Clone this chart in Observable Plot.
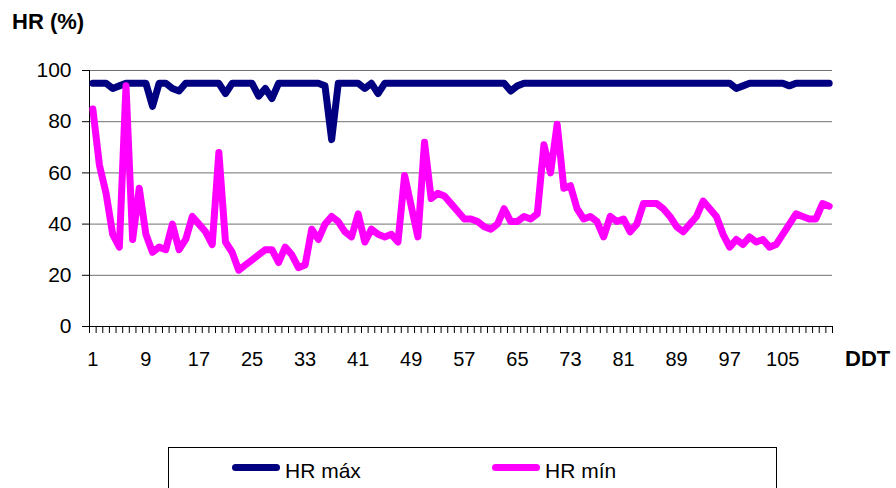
<!DOCTYPE html>
<html>
<head>
<meta charset="utf-8">
<script src="https://cdn.jsdelivr.net/npm/d3@7"></script>
<script src="https://cdn.jsdelivr.net/npm/@observablehq/plot@0.6"></script>
<style>
  html, body { margin: 0; padding: 0; background: #fff; }
  #wrap { position: relative; width: 896px; height: 488px; overflow: hidden; background: #fff;
          font-family: Arial, "Liberation Sans", sans-serif; color: #000; }
  #wrap svg { position: absolute; left: 0; top: 0; }
  .txt { position: absolute; white-space: nowrap; }
  .bold { font-weight: bold; }
  #legend { position: absolute; left: 168px; top: 447px; width: 609px; height: 60px; border: 1px solid #000; box-sizing: border-box; }
  .sw { position: absolute; height: 7px; border-radius: 4px; }
</style>
</head>
<body>
<div id="wrap">
  <div class="txt bold" style="left:12px; top:11px; font-size:22px; line-height:22px;">HR (%)</div>
  <div class="txt bold" style="left:845px; top:348px; font-size:22px; line-height:22px;">DDT</div>
  <div id="legend"></div>
  <div class="sw" style="left:232px; top:464px; width:48px; background:#000080;"></div>
  <div class="txt" style="left:285px; top:460px; font-size:21px; line-height:21px;">HR máx</div>
  <div class="sw" style="left:492px; top:464px; width:48px; background:#ff00ff;"></div>
  <div class="txt" style="left:545px; top:460px; font-size:21px; line-height:21px;">HR mín</div>
</div>
<script>
// Series values (HR %), one per day (DDT 1..112)
const hrMax = [
  95, 95, 95, 93, 94, 95, 95, 95, 95, 86,
  95, 95, 93, 92, 95, 95, 95, 95, 95, 95,
  91, 95, 95, 95, 95, 90, 93, 89, 95, 95,
  95, 95, 95, 95, 95, 94, 73, 95, 95, 95,
  95, 93, 95, 91, 95, 95, 95, 95, 95, 95,
  95, 95, 95, 95, 95, 95, 95, 95, 95, 95,
  95, 95, 95, 92, 94, 95, 95, 95, 95, 95,
  95, 95, 95, 95, 95, 95, 95, 95, 95, 95,
  95, 95, 95, 95, 95, 95, 95, 95, 95, 95,
  95, 95, 95, 95, 95, 95, 95, 93, 94, 95,
  95, 95, 95, 95, 95, 94, 95, 95, 95, 95,
  95, 95
];
const hrMin = [
  85, 63, 52, 36, 31, 94, 34, 54, 36, 29,
  31, 30, 40, 30, 34, 43, 40, 37, 32, 68,
  33, 29, 22, 24, 26, 28, 30, 30, 25, 31,
  28, 23, 24, 38, 34, 40, 43, 41, 37, 35,
  44, 33, 38, 36, 35, 36, 33, 59, 47, 35,
  72, 50, 52, 51, 48, 45, 42, 42, 41, 39,
  38, 40, 46, 41, 41, 43, 42, 44, 71, 60,
  79, 54, 55, 46, 42, 43, 41, 35, 43, 41,
  42, 37, 40, 48, 48, 48, 46, 43, 39, 37,
  40, 43, 49, 46, 43, 36, 31, 34, 32, 35,
  33, 34, 31, 32, 36, 40, 44, 43, 42, 42,
  48, 47
];
const yTicks = [0, 20, 40, 60, 80, 100];
const gridValues = [20, 40, 60, 80, 100];
const xLabels = [1, 9, 17, 25, 33, 41, 49, 57, 65, 73, 81, 89, 97, 105];

const days = hrMax.map((_, i) => i + 1);
const rows = days.map((d, i) => ({day: d, max: hrMax[i], min: hrMin[i]}));
const boundaries = [0.5, ...days.map(d => d + 0.5)];
const n = days.length;

const chart = Plot.plot({
  width: 896,
  height: 488,
  marginTop: 70,
  marginBottom: 162,
  marginLeft: 89,
  marginRight: 64,
  style: {fontFamily: "Arial, 'Liberation Sans', sans-serif", fontSize: "20px", color: "#000", background: "transparent", overflow: "visible"},
  x: {type: "linear", domain: [0.5, n + 0.5], label: null},
  y: {domain: [0, 100], label: null},
  marks: [
    Plot.ruleY(gridValues, {stroke: "#707070", strokeWidth: 1}),
    Plot.ruleY([0], {stroke: "#000", strokeWidth: 1}),
    Plot.ruleX([0.5], {y1: 0, y2: 100, stroke: "#000", strokeWidth: 1}),
    Plot.axisY({ticks: yTicks, tickSize: 7, tickPadding: 11, fontSize: 21, stroke: "#000", label: null}),
    Plot.axisX({ticks: boundaries, tickSize: 7, tickFormat: () => "", stroke: "#000", label: null}),
    Plot.axisX({ticks: xLabels, tickSize: 0, tickPadding: 25, tickFormat: d => String(d), fontSize: 20, label: null}),
    Plot.line(rows, {x: "day", y: "max", stroke: "#000080", strokeWidth: 7, strokeLinecap: "round", strokeLinejoin: "round"}),
    Plot.line(rows, {x: "day", y: "min", stroke: "#ff00ff", strokeWidth: 7, strokeLinecap: "round", strokeLinejoin: "round"})
  ]
});
document.getElementById("wrap").prepend(chart);
</script>
</body>
</html>
